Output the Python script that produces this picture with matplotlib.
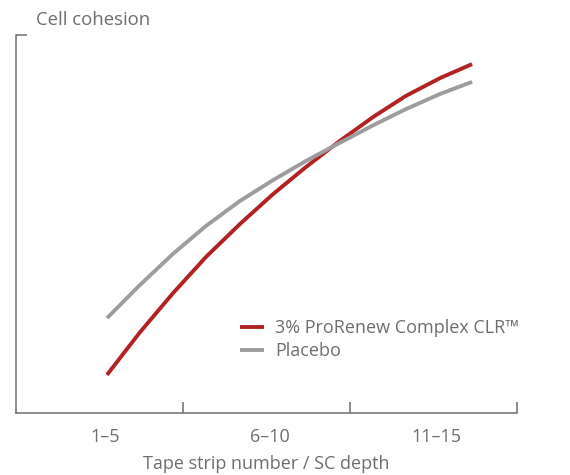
import matplotlib.pyplot as plt

# category axis: 0..3, each category one unit wide
categories = ['1–5', '6–10', '11–15']

# curve points (x in category units, y in % of axis height)
x_pts = [0.545, 0.743, 0.940, 1.138, 1.341, 1.539, 1.737, 1.940, 2.138, 2.335, 2.539, 2.731]
y_red = [10.1, 21.4, 31.7, 41.3, 50.0, 57.9, 65.1, 72.0, 78.3, 83.9, 88.6, 92.3]
y_gray = [25.1, 33.9, 42.1, 49.5, 56.1, 61.6, 66.7, 71.5, 76.1, 80.4, 84.4, 87.6]

plt.rcParams['font.family'] = ['Open Sans', 'DejaVu Sans']
text_color = '#6d6e71'
axis_color = '#6d6e71'

fig = plt.figure(figsize=(5.7, 4.75), dpi=100)
ax = fig.add_axes([16 / 570, 62 / 475, 501 / 570, 378 / 475])

ax.plot(x_pts, y_red, color='#b22222', lw=2.8, solid_capstyle='butt',
        solid_joinstyle='round', label='3% ProRenew Complex CLR™')
ax.plot(x_pts, y_gray, color='#9d9d9f', lw=2.8, solid_capstyle='butt',
        solid_joinstyle='round', label='Placebo')

ax.set_xlim(0, 3)
ax.set_ylim(0, 100)

for side in ['top', 'right']:
    ax.spines[side].set_visible(False)
for side in ['left', 'bottom']:
    ax.spines[side].set_color(axis_color)
    ax.spines[side].set_linewidth(1.1)

# boundary ticks between categories, labels near the middle
ax.set_xticks([1, 2, 3])
ax.set_xticklabels([])
ax.set_xticks([0.535, 1.52, 2.52], minor=True)
ax.set_xticklabels(categories, minor=True)
ax.tick_params(axis='x', which='major', direction='in', length=8, width=1.1, color=axis_color)
ax.tick_params(axis='x', which='minor', length=0, pad=11, labelsize=13, labelcolor=text_color)

ax.set_yticks([100])
ax.set_yticklabels([])
ax.tick_params(axis='y', direction='in', length=8, width=1.1, color=axis_color)

ax.set_xlabel('Tape strip number / SC depth', fontsize=13, color=text_color, labelpad=6)
fig.text(36 / 570, 1 - 20 / 475, 'Cell cohesion', fontsize=13.3, color=text_color,
         ha='left', va='center')

leg = ax.legend(loc='upper left', bbox_to_anchor=(240 / 570, 1 - 319 / 475),
                bbox_transform=fig.transFigure, frameon=False, fontsize=13,
                handlelength=1.35, handletextpad=0.6, labelspacing=0.3,
                borderpad=0, borderaxespad=0)
for t in leg.get_texts():
    t.set_color(text_color)

fig.savefig('out.png', dpi=100)
